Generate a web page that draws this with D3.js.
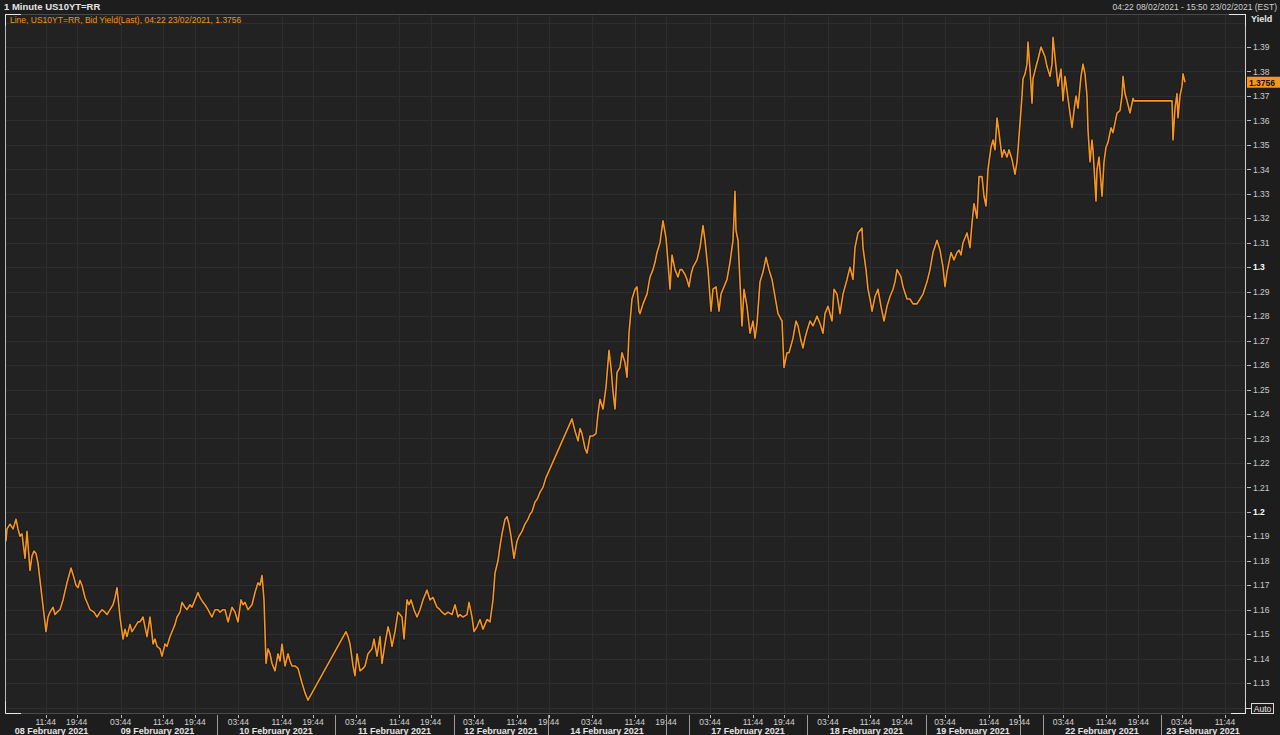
<!DOCTYPE html>
<html><head><meta charset="utf-8">
<script src="https://cdn.jsdelivr.net/npm/d3@7"></script>
<style>
html,body{margin:0;padding:0;background:#1e1e1e;overflow:hidden}
svg{display:block}
text{font-family:"Liberation Sans",Arial,sans-serif}
</style></head><body>
<svg id="chart" width="1280" height="735"></svg>
<script>
// ---- DATA (x = bar index on Eikon's trading-time axis, y = bid yield %) ----
const series = [
[1,1.188],[2,1.193],[5,1.195],[8,1.193],[11,1.197],[13,1.193],[15,1.190],[17,1.191],[20,1.181],[22,1.192],[25,1.176],[27,1.182],[29,1.184],[31,1.183],[33,1.179],[37,1.165],[41,1.151],[43,1.157],[45,1.159],[48,1.161],[50,1.158],[52,1.159],[55,1.160],[58,1.164],[62,1.171],[64,1.174],[66,1.177],[69,1.173],[71,1.170],[73,1.169],[75,1.172],[77,1.170],[80,1.165],[83,1.162],[85,1.160],[89,1.159],[92,1.157],[95,1.159],[97,1.160],[100,1.159],[102,1.158],[105,1.160],[108,1.162],[110,1.165],[112,1.169],[115,1.157],[118,1.148],[120,1.152],[122,1.149],[125,1.154],[127,1.151],[130,1.153],[133,1.155],[135,1.155],[138,1.157],[140,1.153],[142,1.149],[145,1.157],[147,1.150],[148,1.146],[150,1.148],[152,1.145],[155,1.144],[157,1.141],[160,1.146],[162,1.145],[165,1.149],[168,1.152],[170,1.154],[172,1.157],[175,1.159],[177,1.163],[180,1.161],[182,1.160],[185,1.162],[187,1.161],[190,1.164],[193,1.167],[195,1.165],[198,1.163],[200,1.162],[203,1.160],[207,1.157],[210,1.160],[213,1.160],[215,1.159],[218,1.160],[220,1.160],[223,1.155],[227,1.161],[230,1.159],[233,1.155],[236,1.164],[238,1.162],[240,1.163],[243,1.160],[247,1.162],[250,1.167],[253,1.171],[255,1.170],[257,1.174],[259,1.164],[261,1.138],[263,1.144],[265,1.142],[267,1.138],[270,1.135],[273,1.142],[275,1.139],[277,1.146],[280,1.137],[283,1.142],[285,1.139],[287,1.137],[290,1.137],[293,1.136],[295,1.133],[297,1.130],[300,1.126],[303,1.123],
[341,1.151],[343,1.149],[345,1.146],[348,1.137],[350,1.133],[352,1.142],[355,1.135],[358,1.136],[360,1.137],[363,1.142],[367,1.144],[369,1.148],[372,1.141],[375,1.149],[377,1.138],[380,1.146],[383,1.153],[385,1.150],[387,1.145],[390,1.151],[393,1.159],[395,1.158],[397,1.157],[399,1.148],[402,1.164],[404,1.162],[406,1.164],[409,1.160],[412,1.157],[415,1.160],[418,1.164],[420,1.166],[422,1.168],[425,1.164],[428,1.165],[430,1.163],[432,1.161],[435,1.160],[437,1.159],[440,1.158],[443,1.159],[447,1.158],[450,1.162],[453,1.157],[455,1.158],[458,1.157],[462,1.158],[464,1.163],[467,1.157],[469,1.151],[472,1.153],[475,1.156],[478,1.152],[480,1.154],[482,1.156],[485,1.155],[488,1.164],[490,1.175],[493,1.180],[495,1.186],[497,1.191],[500,1.197],[502,1.198],[504,1.195],[506,1.190],[509,1.181],[512,1.188],[514,1.190],[517,1.192],[520,1.195],[523,1.197],[525,1.199],[527,1.200],[530,1.204],[532,1.205],[535,1.208],[538,1.210],[541,1.214],
[567,1.238],[570,1.233],[573,1.229],[575,1.234],[577,1.232],[580,1.226],[582,1.224],[585,1.231],[588,1.231],[591,1.232],[593,1.240],[595,1.246],[598,1.242],[601,1.251],[604,1.266],[606,1.259],[608,1.249],[610,1.242],[612,1.257],[615,1.259],[617,1.265],[620,1.261],[622,1.255],[624,1.273],[627,1.287],[630,1.291],[632,1.292],[634,1.282],
[635,1.281],[638,1.285],[642,1.289],[645,1.296],[648,1.299],[650,1.302],[652,1.306],[655,1.310],[658,1.319],[661,1.312],[663,1.302],[665,1.291],[667,1.305],[670,1.299],[673,1.296],[675,1.299],[677,1.299],[680,1.297],[682,1.295],[684,1.292],[686,1.297],[688,1.300],[692,1.303],[695,1.308],[698,1.317],[700,1.311],[703,1.299],[706,1.282],[708,1.291],[711,1.292],[714,1.282],[716,1.289],[718,1.291],[722,1.295],[725,1.302],[728,1.311],[730,1.331],[731,1.315],[733,1.311],[735,1.294],[737,1.276],[739,1.291],[742,1.284],[745,1.273],[748,1.278],[750,1.271],[752,1.277],[755,1.294],[758,1.298],[761,1.304],[764,1.299],[767,1.295],[770,1.288],[773,1.281],[777,1.278],[779,1.259],[782,1.265],[784,1.265],[786,1.268],[788,1.271],[791,1.278],[793,1.276],[796,1.270],[798,1.267],[800,1.271],[802,1.274],[805,1.278],[808,1.276],[812,1.280],[815,1.277],[818,1.273],[820,1.281],[823,1.284],[827,1.278],[829,1.291],[832,1.289],[835,1.281],[838,1.289],[842,1.295],[845,1.300],[848,1.295],[850,1.308],[853,1.314],[857,1.316],[858,1.308],[861,1.299],[863,1.291],[865,1.287],[867,1.282],[870,1.288],[873,1.291],[876,1.284],[879,1.278],[882,1.284],[885,1.288],[888,1.291],[890,1.294],[892,1.299],[896,1.296],[898,1.292],[902,1.287],[905,1.287],[908,1.285],[912,1.285],[915,1.287],[918,1.289],[922,1.294],[925,1.299],[928,1.306],[932,1.311],[935,1.307],[938,1.300],[940,1.292],[942,1.298],[946,1.306],[949,1.303],[952,1.306],[954,1.307],
[956,1.305],[958,1.310],[962,1.314],[965,1.308],[967,1.318],[969,1.326],[972,1.320],[974,1.337],[977,1.337],[979,1.329],[981,1.325],[983,1.340],[986,1.349],[988,1.352],[990,1.348],[992,1.361],[994,1.355],[997,1.345],[999,1.348],[1002,1.345],[1004,1.348],[1007,1.344],[1010,1.338],[1012,1.343],[1013,1.348],[1015,1.359],[1017,1.370],[1018,1.377],[1020,1.379],[1022,1.383],[1023,1.392],[1025,1.381],[1027,1.367],[1028,1.377],[1031,1.382],[1033,1.385],[1036,1.390],[1038,1.388],[1040,1.386],[1042,1.382],[1045,1.378],[1047,1.383],[1048,1.394],[1051,1.382],[1053,1.374],[1056,1.381],[1058,1.368],[1060,1.378],[1062,1.372],[1065,1.363],[1067,1.357],[1069,1.364],[1071,1.370],[1073,1.365],[1076,1.378],[1078,1.383],[1080,1.379],[1082,1.370],[1083,1.356],[1085,1.343],[1087,1.352],[1088,1.348],[1091,1.327],[1092,1.340],[1094,1.345],[1097,1.329],[1099,1.343],[1101,1.349],[1103,1.351],[1106,1.357],[1108,1.355],[1110,1.359],[1112,1.363],[1115,1.364],[1117,1.370],[1118,1.378],[1120,1.371],[1122,1.368],[1125,1.363],[1128,1.369],[1129,1.368],[1167,1.368],[1168,1.352],[1170,1.365],[1172,1.371],[1173,1.361],[1175,1.370],[1177,1.374],[1178,1.379],[1180,1.3756]
];
const lastValue = 1.3756;
const yieldTicks = [1.13,1.14,1.15,1.16,1.17,1.18,1.19,1.2,1.21,1.22,1.23,1.24,1.25,1.26,1.27,1.28,1.29,1.3,1.31,1.32,1.33,1.34,1.35,1.36,1.37,1.38,1.39];
const yieldGrid = [1.12,1.13,1.14,1.15,1.16,1.17,1.18,1.19,1.2,1.21,1.22,1.23,1.24,1.25,1.26,1.27,1.28,1.29,1.3,1.31,1.32,1.33,1.34,1.35,1.36,1.37,1.38,1.39,1.4];
const majorYields = [1.2,1.3];
const timeTickBars = [40.7,71.7,115.7,158.3,190,233.3,276.7,308,350.7,394.3,425.7,468.7,511.7,543.7,586.7,629.7,661,705,748,779,823,865,897,940,984,1014.3,1058.3,1101,1133.3,1176.7,1220];
const timeTickLabels = ["11:44","19:44","03:44","11:44","19:44","03:44","11:44","19:44","03:44","11:44","19:44","03:44","11:44","19:44","03:44","11:44","19:44","03:44","11:44","19:44","03:44","11:44","19:44","03:44","11:44","19:44","03:44","11:44","19:44","03:44","11:44"];
const dayBoundaryBars = [0,93,212,330,449,543,661,684,802,921,1015,1038,1156,1240];
const daySeparatorShown = [false,false,true,true,true,true,true,true,true,true,true,true,true,false];
const dayLabels = ["08 February 2021","09 February 2021","10 February 2021","11 February 2021","12 February 2021","14 February 2021","","17 February 2021","18 February 2021","19 February 2021","","22 February 2021","23 February 2021"];
const xDomain = [0,1240];
const yDomain = [1.11777,1.40349];

// ---- LAYOUT ----
const L=5, R=1245, T=14, B=713;
const svg = d3.select("#chart");
const x = d3.scaleLinear().domain(xDomain).range([L,R]);
const y = d3.scaleLinear().domain(yDomain).range([B,T]);

svg.append("rect").attr("width",1280).attr("height",735).attr("fill","#1d1d1d");
svg.append("rect").attr("x",L).attr("y",T).attr("width",R-L).attr("height",B-T).attr("fill","#222222");

svg.append("defs").append("clipPath").attr("id","clip").append("rect")
  .attr("x",L).attr("y",T).attr("width",R-L).attr("height",B-T);

const grid = svg.append("g").attr("clip-path","url(#clip)");
grid.selectAll("line.h").data(yieldGrid).join("line")
  .attr("x1",L).attr("x2",R).attr("y1",d=>Math.round(y(d))+0.5).attr("y2",d=>Math.round(y(d))+0.5)
  .attr("stroke","#2e2e2e").attr("stroke-width",1);
grid.selectAll("line.v").data(timeTickBars).join("line")
  .attr("y1",T).attr("y2",B).attr("x1",d=>Math.round(x(d))+0.5).attr("x2",d=>Math.round(x(d))+0.5)
  .attr("stroke","#2e2e2e").attr("stroke-width",1);

// line
const line = d3.line().x(d=>x(d[0])).y(d=>y(d[1]));
const lg = svg.append("g").attr("clip-path","url(#clip)");
lg.append("path").datum(series).attr("d",line).attr("fill","none")
  .attr("stroke","#0a0a0a").attr("stroke-opacity",0.55).attr("stroke-width",3.2).attr("stroke-linejoin","round");
lg.append("path").datum(series).attr("d",line).attr("fill","none")
  .attr("stroke","#f7961c").attr("stroke-width",1.6).attr("stroke-linejoin","round");

// frame
svg.append("line").attr("x1",L).attr("x2",R).attr("y1",T+0.5).attr("y2",T+0.5).attr("stroke","#4a4a4a");
svg.append("line").attr("x1",L).attr("x2",R).attr("y1",B+0.5).attr("y2",B+0.5).attr("stroke","#4a4a4a");
svg.append("line").attr("x1",L+0.5).attr("x2",L+0.5).attr("y1",T).attr("y2",B).attr("stroke","#b8b8b8");
svg.append("line").attr("x1",R+0.5).attr("x2",R+0.5).attr("y1",T).attr("y2",B+1).attr("stroke","#d0d0d0");
const corner = "#e6e6e6";
svg.append("path").attr("d",`M${L+0.5},${T+12}V${T+0.5}H${L+16}`).attr("fill","none").attr("stroke",corner);
svg.append("path").attr("d",`M${L+0.5},${B-12}V${B+0.5}H${L+16}`).attr("fill","none").attr("stroke",corner);
svg.append("path").attr("d",`M${R-16},${T+0.5}H${R+0.5}V${T+12}`).attr("fill","none").attr("stroke",corner);
svg.append("path").attr("d",`M${R-14},${B+0.5}H${R+0.5}V${B-12}`).attr("fill","none").attr("stroke",corner);

// header texts
svg.append("text").attr("x",4).attr("y",10).attr("fill","#e4e4e4").attr("font-size",9.5).attr("font-weight","bold")
  .text("1 Minute US10YT=RR");
svg.append("text").attr("x",1277).attr("y",10).attr("fill","#cfcfcf").attr("font-size",8.5).attr("text-anchor","end")
  .text("04:22 08/02/2021 - 15:50 23/02/2021 (EST)");
svg.append("text").attr("x",10).attr("y",23).attr("fill","#f0941c").attr("font-size",8.5)
  .text("Line, US10YT=RR, Bid Yield(Last), 04:22 23/02/2021, " + lastValue);
svg.append("text").attr("x",1251).attr("y",22).attr("fill","#e8e8e8").attr("font-size",9).attr("font-weight","bold")
  .text("Yield");

// y axis
const ya = svg.append("g");
ya.selectAll("line").data(yieldTicks).join("line")
  .attr("x1",R+2).attr("x2",R+6).attr("y1",d=>Math.round(y(d))+0.5).attr("y2",d=>Math.round(y(d))+0.5)
  .attr("stroke","#bdbdbd");
ya.selectAll("text").data(yieldTicks).join("text")
  .attr("x",R+8).attr("y",d=>y(d)+3.2).attr("font-size",8.5)
  .attr("fill",d=>majorYields.includes(d)?"#ffffff":"#cccccc")
  .attr("font-weight",d=>majorYields.includes(d)?"bold":"normal")
  .text(d=>d3.format("")(d));

// last value marker
const ly = y(lastValue);
svg.append("rect").attr("x",R+2).attr("y",ly-5.5).attr("width",33).attr("height",11).attr("fill","#f7961c");
svg.append("text").attr("x",R+4).attr("y",ly+3.3).attr("font-size",8.5).attr("font-weight","bold").attr("fill","#111")
  .text(lastValue);

// Auto box
svg.append("rect").attr("x",1251.5).attr("y",703.5).attr("width",22).attr("height",10).attr("fill","#1d1d1d").attr("stroke","#d8d8d8");
svg.append("text").attr("x",1262.5).attr("y",711.5).attr("font-size",8.5).attr("fill","#e8e8e8").attr("text-anchor","middle").text("Auto");
svg.append("line").attr("x1",R+1).attr("x2",1251).attr("y1",708.5).attr("y2",708.5).attr("stroke","#d8d8d8");

// x axis
const xa = svg.append("g");
xa.selectAll("line.t").data(timeTickBars).join("line")
  .attr("x1",d=>Math.round(x(d))+0.5).attr("x2",d=>Math.round(x(d))+0.5).attr("y1",B+2).attr("y2",B+5)
  .attr("stroke","#bdbdbd");
xa.selectAll("text.t").data(timeTickBars).join("text")
  .attr("x",d=>x(d)).attr("y",B+12).attr("font-size",8.5).attr("fill","#d2d2d2").attr("text-anchor","middle")
  .text((d,i)=>timeTickLabels[i]);
const seps = dayBoundaryBars.filter((d,i)=>daySeparatorShown[i]);
xa.selectAll("line.s").data(seps).join("line")
  .attr("x1",d=>Math.round(x(d))+0.5).attr("x2",d=>Math.round(x(d))+0.5).attr("y1",B+2).attr("y2",735)
  .attr("stroke","#9c9c9c");
xa.selectAll("text.d").data(dayLabels).join("text")
  .attr("x",(d,i)=>x((dayBoundaryBars[i]+dayBoundaryBars[i+1])/2)).attr("y",B+21)
  .attr("font-size",9).attr("font-weight","bold").attr("fill","#e6e6e6").attr("text-anchor","middle")
  .text(d=>d);
</script>
</body></html>
